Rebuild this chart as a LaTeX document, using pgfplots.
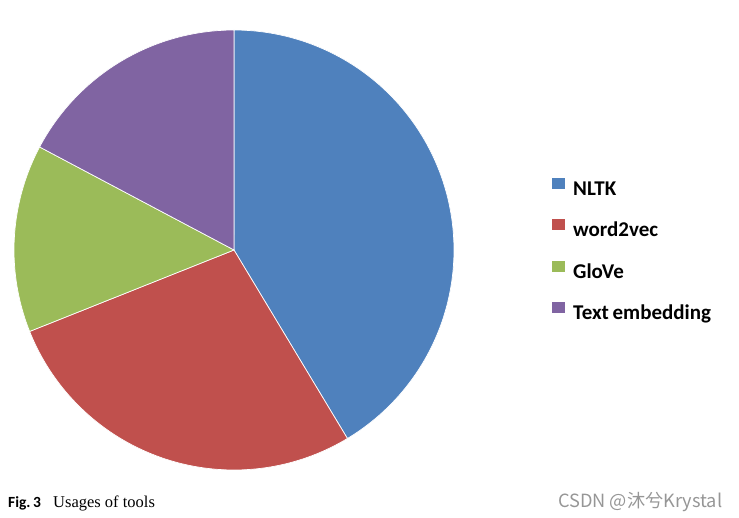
\documentclass[border=0pt]{standalone}
\usepackage{pgfplots}
\pgfplotsset{compat=1.18}
\usepackage{fontspec}
\setmainfont{Carlito}
\newfontfamily\capserif{Liberation Serif}
\newfontfamily\cjk{Noto Sans CJK SC}
\definecolor{cNLTK}{HTML}{4F81BD}
\definecolor{cW2V}{HTML}{C0504D}
\definecolor{cGlove}{HTML}{9BBB59}
\definecolor{cText}{HTML}{8064A2}
\definecolor{wmgray}{RGB}{150,150,150}
% usage counts of tools
\def\vNLTK{12}
\def\vWtv{8}
\def\vGlove{4}
\def\vText{5}
\begin{document}
\begin{tikzpicture}
\pgfmathsetmacro{\tot}{\vNLTK+\vWtv+\vGlove+\vText}
\pgfmathsetmacro{\aA}{90}
\pgfmathsetmacro{\aB}{\aA-\vNLTK/\tot*360}
\pgfmathsetmacro{\aC}{\aB-\vWtv/\tot*360}
\pgfmathsetmacro{\aD}{\aC-\vGlove/\tot*360}
\pgfmathsetmacro{\aE}{\aD-\vText/\tot*360}
\def\cx{234}\def\cy{267}\def\R{220}
\begin{axis}[
  width=739pt, height=517pt, scale only axis,
  xmin=0, xmax=739, ymin=0, ymax=517,
  hide axis, clip=false,
  legend cell align=left,
  legend image code/.code={\path[#1,draw=none] (0pt,2pt) rectangle (13pt,13pt);},
  legend style={at={(axis cs:552,339)}, anchor=north west, draw=none, fill=none,
    inner sep=0pt, row sep=18.7pt,
    font=\fontsize{21}{24}\selectfont\bfseries,
    nodes={inner sep=0pt, text height=14pt, text depth=5pt},
    /tikz/every even column/.append style={column sep=0pt}},
]
\path (axis cs:0,0) rectangle (axis cs:739,517);
\addplot[fill=cNLTK, draw=white, line width=0.7pt, domain=\aB:\aA, samples=120, variable=\t]
  ({\cx+\R*cos(\t)},{\cy+\R*sin(\t)}) -- (axis cs:\cx,\cy) -- cycle;
\addlegendentry{\hspace{8pt}NLTK}
\addplot[fill=cW2V, draw=white, line width=0.7pt, domain=\aC:\aB, samples=80, variable=\t]
  ({\cx+\R*cos(\t)},{\cy+\R*sin(\t)}) -- (axis cs:\cx,\cy) -- cycle;
\addlegendentry{\hspace{8pt}word2vec}
\addplot[fill=cGlove, draw=white, line width=0.7pt, domain=\aD:\aC, samples=60, variable=\t]
  ({\cx+\R*cos(\t)},{\cy+\R*sin(\t)}) -- (axis cs:\cx,\cy) -- cycle;
\addlegendentry{\hspace{8pt}GloVe}
\addplot[fill=cText, draw=white, line width=0.7pt, domain=\aE:\aD, samples=60, variable=\t]
  ({\cx+\R*cos(\t)},{\cy+\R*sin(\t)}) -- (axis cs:\cx,\cy) -- cycle;
\addlegendentry{\hspace{8pt}Text\hspace{-1pt} embedding}
\node[anchor=base west, inner sep=0pt] at (axis cs:8,10)
  {\fontsize{15.5}{18}\selectfont\bfseries Fig.\,3};
\node[anchor=base west, inner sep=0pt] at (axis cs:53,10)
  {\fontsize{16.5}{20}\capserif Usages of tools};
\node[anchor=base west, inner sep=0pt, text=wmgray] at (axis cs:558,10)
  {\fontsize{18.2}{22}\cjk CSDN @沐兮Krystal};
\end{axis}
\end{tikzpicture}
\end{document}
